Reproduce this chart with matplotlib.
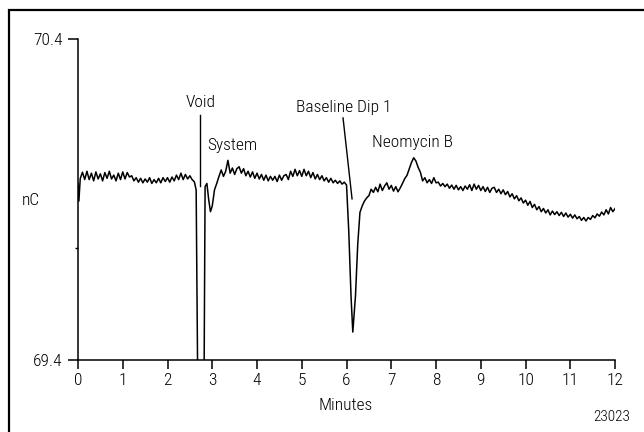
import matplotlib
matplotlib.use("Agg")
import matplotlib.pyplot as plt
from matplotlib.patches import Rectangle

plt.rcParams['font.family'] = ['Roboto Condensed', 'Liberation Sans', 'DejaVu Sans']
plt.rcParams['font.weight'] = 'light'

# Chromatogram trace (minutes, nC)
minutes = [0.00, 0.02, 0.05, 0.10, 0.15, 0.20, 0.25, 0.30, 0.35, 0.40,
           0.45, 0.50, 0.55, 0.60, 0.65, 0.70, 0.75, 0.80, 0.85, 0.90,
           0.95, 1.00, 1.05, 1.10, 1.15, 1.20, 1.25, 1.30, 1.35, 1.40,
           1.45, 1.50, 1.55, 1.60, 1.65, 1.70, 1.75, 1.80, 1.85, 1.90,
           1.95, 2.00, 2.05, 2.10, 2.15, 2.20, 2.25, 2.30, 2.35, 2.40,
           2.45, 2.50, 2.55, 2.60, 2.64, 2.70, 2.80, 2.84, 2.88, 2.92,
           2.96, 3.00, 3.05, 3.10, 3.15, 3.20, 3.25, 3.30, 3.35, 3.40,
           3.45, 3.50, 3.55, 3.60, 3.65, 3.70, 3.75, 3.80, 3.85, 3.90,
           3.95, 4.00, 4.05, 4.10, 4.15, 4.20, 4.25, 4.30, 4.35, 4.40,
           4.45, 4.50, 4.55, 4.60, 4.65, 4.70, 4.75, 4.80, 4.85, 4.90,
           4.95, 5.00, 5.05, 5.10, 5.15, 5.20, 5.25, 5.30, 5.35, 5.40,
           5.45, 5.50, 5.55, 5.60, 5.65, 5.70, 5.75, 5.80, 5.85, 5.90,
           5.95, 6.00, 6.05, 6.10, 6.14, 6.20, 6.25, 6.30, 6.35, 6.40,
           6.45, 6.50, 6.55, 6.60, 6.65, 6.70, 6.75, 6.80, 6.85, 6.90,
           6.95, 7.00, 7.05, 7.10, 7.15, 7.20, 7.25, 7.30, 7.35, 7.40,
           7.45, 7.50, 7.55, 7.60, 7.65, 7.70, 7.75, 7.80, 7.85, 7.90,
           7.95, 8.00, 8.05, 8.10, 8.15, 8.20, 8.25, 8.30, 8.35, 8.40,
           8.45, 8.50, 8.55, 8.60, 8.65, 8.70, 8.75, 8.80, 8.85, 8.90,
           8.95, 9.00, 9.05, 9.10, 9.15, 9.20, 9.25, 9.30, 9.35, 9.40,
           9.45, 9.50, 9.55, 9.60, 9.65, 9.70, 9.75, 9.80, 9.85, 9.90,
           9.95, 10.00, 10.05, 10.10, 10.15, 10.20, 10.25, 10.30, 10.35, 10.40,
           10.45, 10.50, 10.55, 10.60, 10.65, 10.70, 10.75, 10.80, 10.85, 10.90,
           10.95, 11.00, 11.05, 11.10, 11.15, 11.20, 11.25, 11.30, 11.35, 11.40,
           11.45, 11.50, 11.55, 11.60, 11.65, 11.70, 11.75, 11.80, 11.85, 11.90,
           11.95, 12.00]

signal = [69.950, 69.895, 69.965, 69.985, 69.962, 69.988, 69.962, 69.982, 69.958, 69.986,
          69.964, 69.980, 69.958, 69.984, 69.966, 69.988, 69.964, 69.976, 69.958, 69.982,
          69.962, 69.986, 69.964, 69.984, 69.970, 69.974, 69.958, 69.968, 69.954, 69.966,
          69.952, 69.964, 69.954, 69.968, 69.950, 69.962, 69.952, 69.966, 69.952, 69.968,
          69.956, 69.968, 69.954, 69.970, 69.958, 69.976, 69.962, 69.982, 69.962, 69.978,
          69.964, 69.974, 69.962, 69.955, 69.930, 68.900, 68.900, 69.940, 69.950, 69.900,
          69.862, 69.880, 69.930, 69.950, 69.972, 69.992, 69.972, 69.988, 70.022, 69.982,
          69.998, 69.978, 69.996, 70.002, 69.982, 69.996, 69.974, 69.988, 69.970, 69.986,
          69.966, 69.982, 69.964, 69.978, 69.960, 69.976, 69.958, 69.972, 69.960, 69.972,
          69.956, 69.976, 69.960, 69.974, 69.978, 69.962, 69.988, 69.972, 69.994, 69.974,
          69.990, 69.972, 69.994, 69.974, 69.988, 69.968, 69.984, 69.964, 69.978, 69.962,
          69.974, 69.958, 69.968, 69.954, 69.966, 69.952, 69.960, 69.950, 69.958, 69.948,
          69.954, 69.945, 69.800, 69.600, 69.487, 69.600, 69.760, 69.860, 69.880, 69.895,
          69.905, 69.912, 69.932, 69.922, 69.938, 69.924, 69.948, 69.928, 69.942, 69.952,
          69.932, 69.944, 69.926, 69.940, 69.924, 69.936, 69.950, 69.965, 69.975, 69.995,
          70.015, 70.030, 70.020, 70.000, 69.985, 69.958, 69.968, 69.952, 69.962, 69.950,
          69.968, 69.952, 69.954, 69.942, 69.950, 69.940, 69.948, 69.935, 69.945, 69.932,
          69.944, 69.930, 69.940, 69.928, 69.942, 69.932, 69.946, 69.928, 69.948, 69.932,
          69.944, 69.928, 69.940, 69.925, 69.938, 69.922, 69.935, 69.938, 69.922, 69.932,
          69.918, 69.930, 69.915, 69.925, 69.908, 69.918, 69.902, 69.912, 69.896, 69.905,
          69.889, 69.898, 69.882, 69.894, 69.875, 69.885, 69.868, 69.878, 69.862, 69.872,
          69.858, 69.868, 69.852, 69.864, 69.853, 69.862, 69.850, 69.860, 69.847, 69.858,
          69.845, 69.854, 69.842, 69.852, 69.840, 69.847, 69.835, 69.844, 69.833, 69.844,
          69.838, 69.850, 69.843, 69.855, 69.848, 69.861, 69.852, 69.868, 69.855, 69.875,
          69.862, 69.872]

x_ticks = [0, 1, 2, 3, 4, 5, 6, 7, 8, 9, 10, 11, 12]
y_ticks = [69.4, 70.4]
y_minor = [69.75]


fig = plt.figure(figsize=(6.44, 4.32), dpi=100)
ax = fig.add_axes([0.1211, 0.1667, 0.834, 0.743])

ax.plot(minutes, signal, color='black', lw=1.1)

ax.set_xlim(0, 12)
ax.set_ylim(69.4, 70.4)
ax.spines['top'].set_visible(False)
ax.spines['right'].set_visible(False)
ax.spines['left'].set_linewidth(1.1)
ax.spines['bottom'].set_linewidth(1.1)

ax.set_xticks(x_ticks)
ax.set_xticklabels([str(t) for t in x_ticks], fontsize=12.5)
ax.set_yticks(y_ticks)
ax.set_yticklabels(['69.4', '70.4'], fontsize=12.5)
ax.set_yticks(y_minor, minor=True)
ax.tick_params(axis='x', direction='out', length=6.5, width=1.1, pad=3)
ax.tick_params(axis='y', which='major', direction='out', length=7, width=1.1, pad=4)
ax.tick_params(axis='y', which='minor', direction='out', length=2.5, width=1.0)

# peak labels with leader lines
ax.plot([2.726, 2.726], [70.163, 69.942], color='black', lw=1.0)
ax.text(2.73, 70.201, 'Void', ha='center', va='center', fontsize=12.5)
ax.text(2.88, 70.067, 'System', ha='left', va='center', fontsize=12.5)
ax.plot([5.922, 6.123], [70.154, 69.902], color='black', lw=1.0)
ax.text(5.944, 70.188, 'Baseline Dip 1', ha='center', va='center', fontsize=12.5)
ax.text(7.464, 70.079, 'Neomycin B', ha='center', va='center', fontsize=12.5)

fig.text(0.048, 0.535, 'nC', ha='center', va='center', fontsize=12.5)
fig.text(0.537, 0.0625, 'Minutes', ha='center', va='center', fontsize=12.5)
fig.text(0.978, 0.035, '23023', ha='right', va='center', fontsize=11)

# outer frame (only top and left edges fall inside the picture)
fig.add_artist(Rectangle((0.014, -0.2), 1.2, 1.2 - 10 / 432, transform=fig.transFigure,
                         fill=False, edgecolor='black', lw=1.6))

fig.savefig('out.png', dpi=100)
